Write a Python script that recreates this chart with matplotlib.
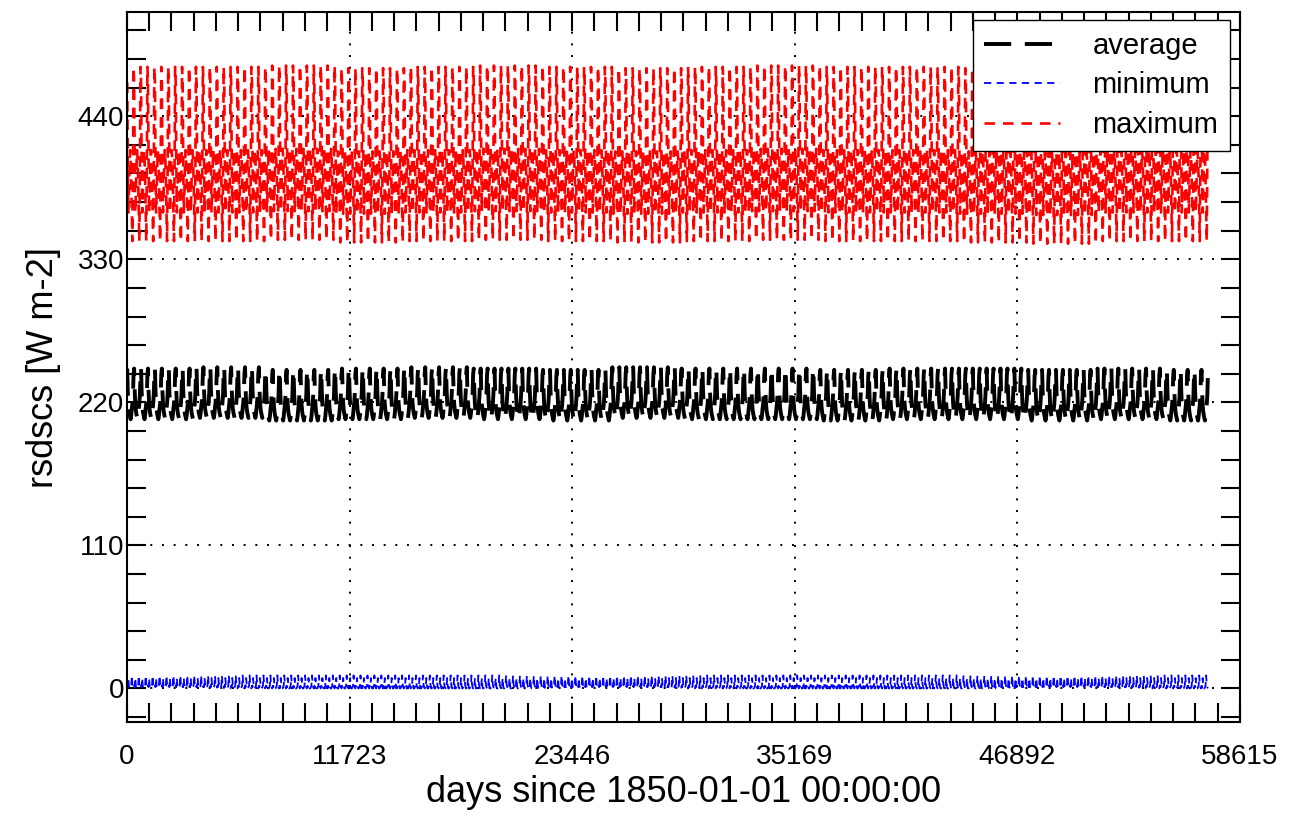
import numpy as np
import matplotlib
matplotlib.use("Agg")
import matplotlib.pyplot as plt
from matplotlib.ticker import MultipleLocator, FixedLocator

plt.rcParams['font.family'] = ['Liberation Sans', 'DejaVu Sans']

# monthly climatology (W m-2), Jan..Dec
avg_clim = [246, 229, 219, 214, 211, 209, 207, 210, 215, 219, 226, 241]
min_clim = [2, 1, 8, 2, 0, 0, 1, 2, 10, 3, 1, 0]
max_clim = [466, 408, 366, 380, 400, 414, 408, 392, 370, 344, 400, 478]

# rough decade-by-decade shifts (1850s .. 2000s)
avg_decade = [0, 1, -1, 0, 1, 0, -1, 1, 0, 0, -1, 0, 0, -1, 0, -1]
min_decade = [0, 0, 0, 0, 0, 0, 0, 0, 0, 0, 0, 0, 0, 0, 0, 0]
max_decade = [0, 0, 1, -1, 0, 1, 0, -1, 0, 1, 0, 0, -1, -2, 0, 0]

n_years = 156  # 1850-2005, noleap calendar
month_mid = [15.5, 45, 74.5, 105, 135.5, 166, 196.5, 227.5, 258, 288.5, 319, 349.5]

xticks = [0, 11723, 23446, 35169, 46892, 58615]
yticks = [0, 110, 220, 330, 440]

days = (np.arange(n_years)[:, None] * 365 + np.array(month_mid)[None, :]).ravel()
yr_dec = np.arange(n_years) // 10


def build(clim, dec):
    return (np.array(clim)[None, :] + np.array(dec)[yr_dec][:, None]).ravel()


avg = build(avg_clim, avg_decade)
mn = build(min_clim, min_decade)
mx = build(max_clim, max_decade)

fig = plt.figure(figsize=(12.95, 8.17), dpi=100)
ax = fig.add_axes([0.098, 0.116, 0.8595, 0.869])

ax.plot(days, avg, color='black', lw=2.8, dashes=(7, 3.5), label='average')
ax.plot(days, mn, color='blue', lw=1.3, dashes=(4, 3), label='minimum')
ax.plot(days, mx, color='red', lw=1.9, dashes=(4, 3), label='maximum')

ax.set_xlim(0, 58615)
ax.set_ylim(-26, 520)
ax.xaxis.set_major_locator(FixedLocator(xticks))
ax.xaxis.set_minor_locator(MultipleLocator(11723 / 10))
ax.yaxis.set_major_locator(FixedLocator(yticks))
ax.yaxis.set_minor_locator(MultipleLocator(22))

ax.tick_params(which='both', direction='in', top=True, right=True,
               length=14, width=1.5, labelsize=20)
ax.tick_params(axis='x', pad=16)
ax.tick_params(axis='y', pad=2)
for s in ax.spines.values():
    s.set_linewidth(1.5)

ax.grid(True, which='major', color='black', linestyle=(0, (1, 5)), lw=1.4)

ax.set_xlabel('days since 1850-01-01 00:00:00', fontsize=26, labelpad=3)
ax.set_ylabel('rsdscs [W m-2]', fontsize=26, labelpad=12)

leg = ax.legend(loc='upper right', fontsize=21, frameon=True, fancybox=False,
                framealpha=1, edgecolor='black', handlelength=2.6,
                borderpad=0.4, labelspacing=0.4, handletextpad=1.1,
                borderaxespad=0, bbox_to_anchor=(0.991, 0.989))
leg.get_frame().set_linewidth(1.0)

fig.savefig('out.png', dpi=100)
